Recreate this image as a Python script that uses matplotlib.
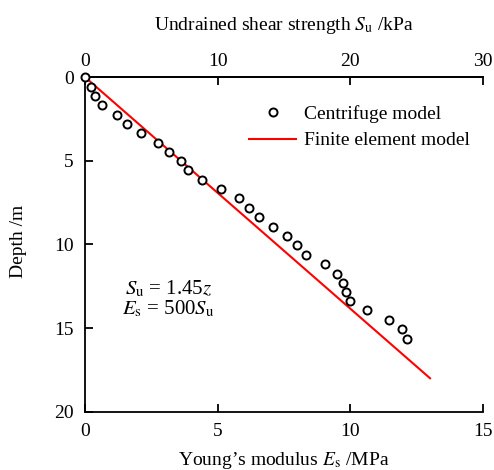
import matplotlib
matplotlib.use("Agg")
import matplotlib.pyplot as plt

plt.rcParams['font.family'] = ['Liberation Serif', 'DejaVu Serif']
plt.rcParams['mathtext.fontset'] = 'stix'

# Centrifuge model data: Young's modulus Es (MPa) vs depth (m)
centrifuge_Es = [0.0, 0.21, 0.36, 0.66, 1.19, 1.57, 2.11, 2.77, 3.16, 3.63, 3.90, 4.42,
                 5.11, 5.79, 6.18, 6.56, 7.08, 7.61, 8.00, 8.33, 9.06, 9.50, 9.72, 9.82,
                 9.98, 10.64, 11.47, 11.95, 12.15]
centrifuge_z = [0.0, 0.60, 1.12, 1.68, 2.24, 2.78, 3.34, 3.92, 4.48, 5.02, 5.58, 6.14,
                6.70, 7.24, 7.80, 8.38, 8.94, 9.50, 10.06, 10.62, 11.18, 11.74, 12.30, 12.85,
                13.39, 13.95, 14.51, 15.07, 15.63]

# Finite element model line
fem_Es = [0.0, 13.0]
fem_z = [0.0, 18.0]

bottom_ticks = [0, 5, 10, 15]
top_ticks = [0, 10, 20, 30]
y_ticks = [0, 5, 10, 15, 20]

FS = 14

fig = plt.figure(figsize=(4.94, 4.70), dpi=100)
ax = fig.add_axes([0.172, 0.124, 0.806, 0.712])

ax.plot(fem_Es, fem_z, color='#ff0000', lw=1.5, label='Finite element model', zorder=2)
ax.plot(centrifuge_Es, centrifuge_z, linestyle='none', marker='o', ms=5.8,
        mfc='white', mec='black', mew=1.4, label='Centrifuge model', zorder=3, clip_on=False)

ax.set_xlim(0, 15)
ax.set_ylim(20, 0)
ax.set_xticks(bottom_ticks)
ax.set_yticks(y_ticks)
ax.spines['right'].set_visible(False)
for s in ['left', 'bottom', 'top']:
    ax.spines[s].set_linewidth(1.3)
ax.tick_params(direction='in', length=6, width=1.3, labelsize=FS)
ax.tick_params(axis='x', pad=8)
ax.tick_params(axis='y', pad=8)

ax.set_xlabel("Young\u2019s modulus $\\it{E}$$_\\mathrm{s}$ /MPa", fontsize=FS, labelpad=7)
ax.set_ylabel("Depth /m", fontsize=FS)
ax.yaxis.set_label_coords(-0.146, 0.51)

top = ax.secondary_xaxis('top', functions=(lambda e: e * 2.0, lambda s: s / 2.0))
top.set_xticks(top_ticks)
top.tick_params(direction='in', length=6, width=1.3, labelsize=FS, pad=5)
top.spines['top'].set_linewidth(1.3)
top.set_xlabel("Undrained shear strength $\\it{S}$$_\\mathrm{u}$ /kPa", fontsize=FS, labelpad=17)

handles, labels = ax.get_legend_handles_labels()
ax.legend([handles[1], handles[0]], [labels[1], labels[0]], loc='upper right',
          bbox_to_anchor=(1.0, 0.957), frameon=False, fontsize=FS,
          handlelength=2.4, handletextpad=0.4, labelspacing=0.45, borderaxespad=0.3)

ax.text(0.21, 0.337, "$S_\\mathrm{u}$ = 1.45$z$\n$E_\\mathrm{s}$ = 500$S_\\mathrm{u}$",
        transform=ax.transAxes, fontsize=15, ha='center', va='center', linespacing=0.95)

fig.savefig("out.png", dpi=100)
